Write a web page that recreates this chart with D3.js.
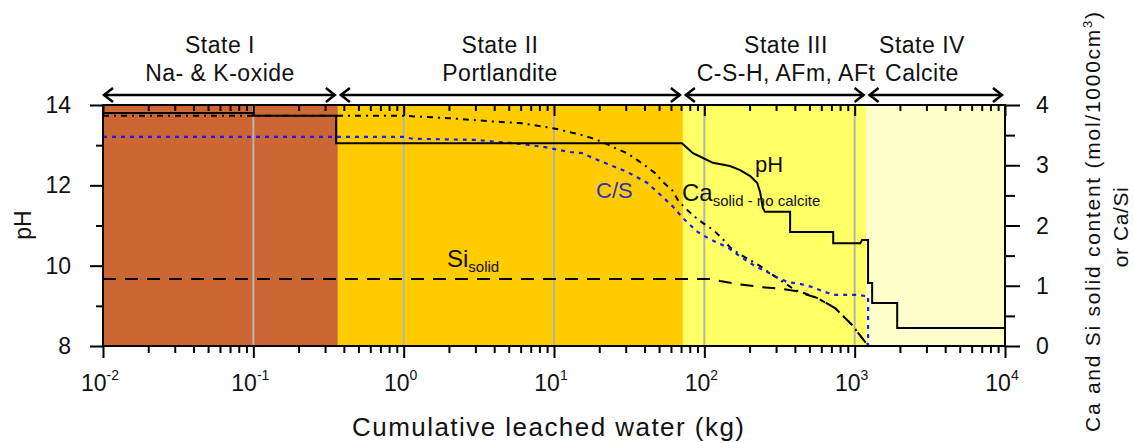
<!DOCTYPE html>
<html><head><meta charset="utf-8">
<script src="https://cdn.jsdelivr.net/npm/d3@7"></script>
<style>body{margin:0;background:#fff} svg{display:block} text{font-family:"Liberation Sans",Arial,sans-serif;fill:#111}</style>
</head><body><svg id="c" width="1134" height="443"></svg>
<script>
// ---------- data ----------
const stateNames=["State I","State II","State III","State IV"];
const stateSubs=["Na- & K-oxide","Portlandite","C-S-H, AFm, AFt","Calcite"];
const stateBounds=[0.01,0.365,72,1200,10000];
const stateColors=["#CC6633","#FFCC00","#FFFF66","#FFFFCC"];
const xMajor=[0.01,0.1,1,10,100,1000,10000];
const xExp=["-2","-1","0","1","2","3","4"];
const gridVals=[0.1,1,10,100,1000];
const phTicks=[8,10,12,14];
const phMinor=[9,11,13];
const rTicks=[0,1,2,3,4];
const rMinor=[0.5,1.5,2.5,3.5];

const phX=[0.01,0.1,0.1,0.355,0.355,71,84,98,114,148,173,202,225,235,245,253,372,372,720,720,1089,1120,1228,1228,1307,1307,1918,1918,10000];
const phY=[13.80,13.80,13.73,13.73,13.05,13.05,12.80,12.68,12.56,12.48,12.38,12.23,12.06,11.83,11.44,11.34,11.34,10.84,10.84,10.56,10.56,10.64,10.64,9.57,9.57,9.07,9.07,8.45,8.45];

const caX=[0.01,1.0,2.03,3.75,5.94,9.12,11.0,13.2,15.4,17.9,20.9,24.7,30.6,35.7,41.6,47.0,53.1,61.0,66.8,74.4,86.8,98,114,131,148,168,234,273,401,562,740,960,1172,1265];
const caY=[3.82,3.82,3.78,3.73,3.70,3.63,3.59,3.54,3.50,3.45,3.39,3.30,3.20,3.09,2.97,2.87,2.72,2.59,2.42,2.29,2.14,2.04,1.93,1.79,1.64,1.54,1.33,1.21,0.93,0.80,0.63,0.35,0.07,0];

const siX=[0.01,114,127,165,234,319,414,482,562,740,960,1172,1265];
const siY=[1.11,1.11,1.08,1.03,0.98,0.95,0.91,0.85,0.80,0.63,0.35,0.07,0];

const csX=[0.01,1.0,1.15,3.08,4.05,5.10,6.22,8.71,10.96,12.8,15.4,18.2,21.2,25.5,30.6,35.7,41.6,47.0,53.1,62.0,71.1,77.9,90.7,106,123,144,168,192,224,261,309,360,433,520,615,718,1038,1172,1228,1228,10000];
const csY=[3.47,3.47,3.44,3.42,3.39,3.37,3.35,3.30,3.25,3.22,3.20,3.12,3.05,2.97,2.89,2.80,2.71,2.59,2.47,2.31,2.14,2.04,1.89,1.79,1.71,1.63,1.51,1.41,1.31,1.23,1.13,1.06,1.03,0.98,0.91,0.85,0.85,0.83,0.83,0,0];

// ---------- layout ----------
const L=103,R=1005,T=105,B=346;
const svg=d3.select("#c");
const x=d3.scaleLog().domain([0.01,10000]).range([L,R]);
const yL=d3.scaleLinear().domain([8,14]).range([B,T]);
const yR=d3.scaleLinear().domain([0,4]).range([B,T]);

// backgrounds
svg.append("g").selectAll("rect").data(stateColors).join("rect")
  .attr("x",(d,i)=>x(stateBounds[i])).attr("y",T)
  .attr("width",(d,i)=>x(stateBounds[i+1])-x(stateBounds[i])).attr("height",B-T)
  .attr("fill",d=>d);

// grid
svg.append("g").selectAll("line").data(gridVals).join("line")
  .attr("x1",d=>x(d)).attr("x2",d=>x(d)).attr("y1",T).attr("y2",B)
  .attr("stroke","#b4b4b4").attr("stroke-width",2);

// minor x ticks
const xMinor=[];
for(let e=-2;e<4;e++) for(let k=2;k<10;k++) xMinor.push(k*Math.pow(10,e));

function styleAxis(g){g.select(".domain").remove();g.selectAll(".tick line").attr("stroke","#000").attr("stroke-width",2);g.selectAll("text").remove();}
// bottom
svg.append("g").attr("transform",`translate(0,${B})`).call(d3.axisBottom(x).tickValues(xMajor).tickSize(12).tickFormat("")).call(styleAxis);
svg.append("g").attr("transform",`translate(0,${B})`).call(d3.axisBottom(x).tickValues(xMinor).tickSize(7).tickFormat("")).call(styleAxis);
// top (inward)
svg.append("g").attr("transform",`translate(0,${T})`).call(d3.axisBottom(x).tickValues(xMajor).tickSize(11).tickFormat("")).call(styleAxis);
svg.append("g").attr("transform",`translate(0,${T})`).call(d3.axisBottom(x).tickValues(xMinor).tickSize(6).tickFormat("")).call(styleAxis);
// left
svg.append("g").attr("transform",`translate(${L},0)`).call(d3.axisLeft(yL).tickValues(phTicks).tickSize(13).tickFormat("")).call(styleAxis);
svg.append("g").attr("transform",`translate(${L},0)`).call(d3.axisLeft(yL).tickValues(phMinor).tickSize(7).tickFormat("")).call(styleAxis);
// right
svg.append("g").attr("transform",`translate(${R},0)`).call(d3.axisRight(yR).tickValues(rTicks).tickSize(15).tickFormat("")).call(styleAxis);
svg.append("g").attr("transform",`translate(${R},0)`).call(d3.axisRight(yR).tickValues(rMinor).tickSize(10).tickFormat("")).call(styleAxis);

// lines
const lineL=d3.line().x(d=>x(d[0])).y(d=>yL(d[1]));
const lineR=d3.line().x(d=>x(d[0])).y(d=>yR(d[1]));
svg.append("path").datum(siX.map((v,i)=>[v,siY[i]])).attr("d",lineR)
  .attr("fill","none").attr("stroke","#000").attr("stroke-width",2).attr("stroke-dasharray","13,9");
svg.append("path").datum(caX.map((v,i)=>[v,caY[i]])).attr("d",lineR)
  .attr("fill","none").attr("stroke","#000").attr("stroke-width",2).attr("stroke-dasharray","6,5,2,5");
svg.append("path").datum(csX.map((v,i)=>[v,csY[i]])).attr("d",lineR)
  .attr("fill","none").attr("stroke","#1a1aff").attr("stroke-width",2.2).attr("stroke-dasharray","4,5");
svg.append("path").datum(phX.map((v,i)=>[v,phY[i]])).attr("d",lineL)
  .attr("fill","none").attr("stroke","#000").attr("stroke-width",2);

// frame
svg.append("rect").attr("x",L).attr("y",T).attr("width",R-L).attr("height",B-T)
  .attr("fill","none").attr("stroke","#000").attr("stroke-width",2);

// x tick labels
const xl=svg.append("g").selectAll("text").data(xMajor).join("text")
  .attr("x",d=>x(d)-3).attr("y",391).attr("text-anchor","middle").attr("font-size",23);
xl.append("tspan").text("10");
xl.append("tspan").attr("dy",-11).attr("font-size",14).text((d,i)=>xExp[i]);

// y tick labels
svg.append("g").selectAll("text").data(phTicks).join("text")
  .attr("x",71).attr("y",d=>yL(d)+8).attr("text-anchor","end").attr("font-size",23).text(d=>d);
svg.append("g").selectAll("text").data(rTicks).join("text")
  .attr("x",1036).attr("y",d=>yR(d)+8).attr("text-anchor","start").attr("font-size",23).text(d=>d);

// axis titles
svg.append("text").attr("x",548).attr("y",436).attr("text-anchor","middle").attr("font-size",26)
  .attr("textLength",392).attr("lengthAdjust","spacing").text("Cumulative leached water (kg)");
svg.append("text").attr("transform","translate(31,225) rotate(-90)").attr("text-anchor","middle").attr("font-size",23).text("pH");
const rt=svg.append("text").attr("transform","translate(1100,222) rotate(-90)").attr("text-anchor","middle").attr("font-size",21)
  .attr("textLength",420).attr("lengthAdjust","spacing");
rt.append("tspan").text("Ca and Si solid content (mol/1000cm");
rt.append("tspan").attr("dy",-8).attr("font-size",13).text("3");
rt.append("tspan").attr("dy",8).text(")");
svg.append("text").attr("transform","translate(1128,227) rotate(-90)").attr("text-anchor","middle").attr("font-size",21)
  .attr("letter-spacing",0.6).text("or Ca/Si");

// state arrows and labels
const ay=95;
const arrows=svg.append("g").attr("stroke","#000").attr("fill","none").attr("stroke-width",2.5);
stateNames.forEach((n,i)=>{
  const x1=x(stateBounds[i])+(i===0?1:3), x2=x(stateBounds[i+1])-(i===3?3:3);
  arrows.append("line").attr("x1",x1).attr("x2",x2).attr("y1",ay).attr("y2",ay);
  arrows.append("path").attr("d",`M${x1+9},${ay-7}L${x1},${ay}L${x1+9},${ay+7}`);
  arrows.append("path").attr("d",`M${x2-9},${ay-7}L${x2},${ay}L${x2-9},${ay+7}`);
});
const labelCx=[220,500,786,922];
svg.append("g").selectAll("text").data(stateNames).join("text")
  .attr("x",(d,i)=>labelCx[i]).attr("y",53).attr("text-anchor","middle").attr("font-size",23).attr("letter-spacing",0.5).text(d=>d);
svg.append("g").selectAll("text").data(stateSubs).join("text")
  .attr("x",(d,i)=>labelCx[i]).attr("y",81).attr("text-anchor","middle").attr("font-size",23).attr("letter-spacing",0.5).text(d=>d);

// curve labels
svg.append("text").attr("x",755).attr("y",172).attr("font-size",22).text("pH");
svg.append("text").attr("x",596).attr("y",198).attr("font-size",22).attr("fill","#3030c0").style("fill","#3030c0").text("C/S");
const ca=svg.append("text").attr("x",682).attr("y",201).attr("font-size",24);
ca.append("tspan").text("Ca");
ca.append("tspan").attr("dy",5).attr("font-size",15).text("solid - no calcite");
const si=svg.append("text").attr("x",447).attr("y",267).attr("font-size",24);
si.append("tspan").text("Si");
si.append("tspan").attr("dy",5).attr("font-size",15).text("solid");
</script></body></html>
